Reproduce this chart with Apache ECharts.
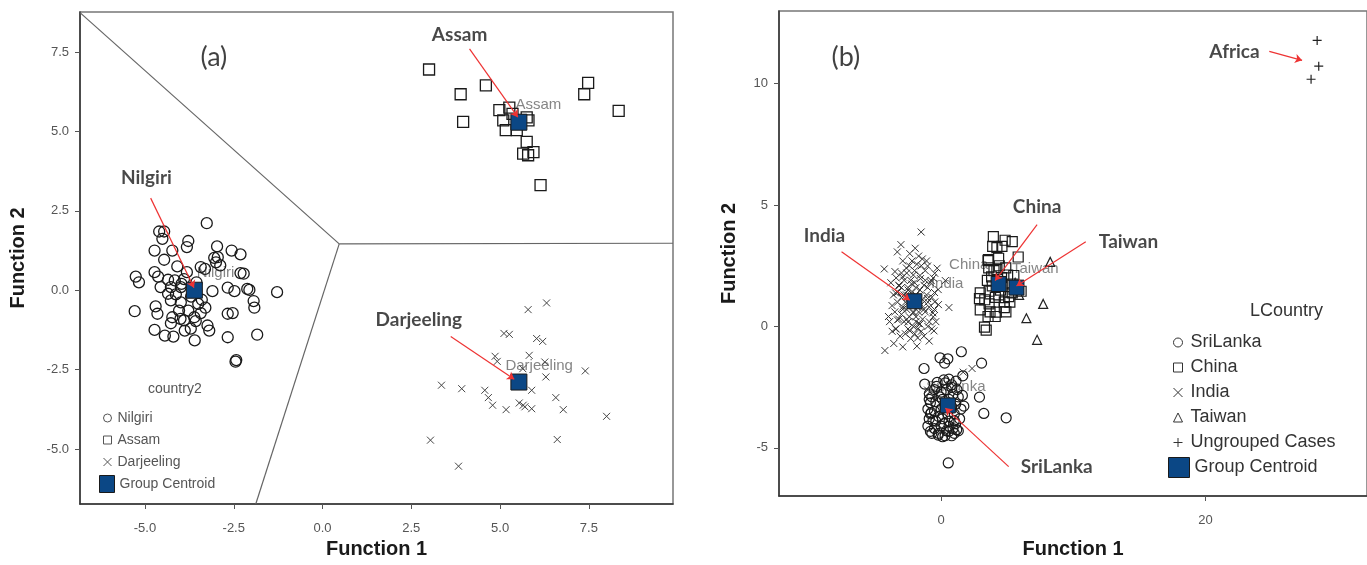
<!DOCTYPE html>
<html>
<head>
<meta charset="utf-8">
<script src="https://cdn.jsdelivr.net/npm/echarts@6/dist/echarts.min.js"></script>
<style>
  html, body { margin: 0; padding: 0; background: #fff; }
  #chart { width: 1367px; height: 565px; }
</style>
</head>
<body>
<div id="chart"></div>
<script>
// ---------- Panel (a): discriminant scores, Indian regions ----------
const nilgiri = [
  [-3.26,2.11],[-4.60,1.85],[-4.46,1.85],[-4.51,1.62],[-3.78,1.55],[-3.82,1.36],[-2.97,1.38],[-4.73,1.25],
  [-4.23,1.25],[-2.56,1.25],[-2.31,1.13],[-4.46,0.96],[-3.05,1.02],[-2.95,1.04],[-3.00,0.88],[-2.88,0.78],
  [-4.09,0.75],[-4.73,0.57],[-5.26,0.43],[-5.17,0.25],[-4.63,0.43],[-4.35,0.33],[-3.82,0.57],[-3.43,0.73],
  [-3.31,0.67],[-2.31,0.54],[-2.22,0.52],[-4.16,0.31],[-3.97,0.20],[-4.56,0.10],[-4.27,0.10],[-3.99,0.10],
  [-3.10,-0.03],[-2.67,0.08],[-2.48,-0.03],[-2.12,0.04],[-2.06,0.01],[-1.28,-0.06],[-4.35,-0.11],[-4.13,-0.13],
  [-4.27,-0.32],[-3.99,-0.38],[-3.50,-0.43],[-3.43,-0.72],[-4.70,-0.51],[-4.65,-0.74],[-5.29,-0.66],[-1.94,-0.34],
  [-1.92,-0.55],[-4.04,-0.64],[-3.78,-0.64],[-3.61,-0.85],[-4.23,-0.85],[-2.67,-0.74],[-2.53,-0.72],[-4.27,-1.04],
  [-3.90,-0.95],[-3.57,-0.97],[-3.24,-1.11],[-3.19,-1.27],[-4.73,-1.25],[-4.44,-1.43],[-4.20,-1.46],[-3.60,-1.58],
  [-2.67,-1.48],[-1.84,-1.40],[-3.88,-1.27],[-3.71,-1.21],[-2.45,-2.25],[-2.43,-2.20],[-3.70,-0.20],[-3.40,-0.30],
  [-4.00,-0.90],[-3.30,-0.55],[-3.90,0.35],[-3.55,0.25]
];
const assam = [
  [3.00,6.95],[3.89,6.17],[4.60,6.45],[3.96,5.30],[7.48,6.53],[7.37,6.17],[8.34,5.65],[4.98,5.67],
  [5.26,5.75],[5.09,5.35],[5.16,5.04],[5.47,5.04],[5.75,5.44],[5.75,4.67],[5.65,4.30],[5.94,4.35],
  [5.79,4.25],[6.14,3.31],[5.35,5.55],[5.80,5.35]
];
const darjeeling = [
  [6.31,-0.40],[5.79,-0.61],[5.11,-1.36],[5.26,-1.39],[6.03,-1.52],[6.20,-1.61],[4.86,-2.08],[4.92,-2.24],
  [5.82,-2.05],[6.26,-2.26],[5.64,-2.47],[6.29,-2.73],[7.40,-2.54],[3.35,-2.99],[3.92,-3.10],[4.57,-3.15],
  [4.67,-3.38],[4.79,-3.62],[5.17,-3.76],[5.89,-3.15],[5.54,-3.55],[5.65,-3.62],[5.70,-3.67],[5.89,-3.73],
  [6.57,-3.38],[6.78,-3.76],[8.00,-3.97],[3.04,-4.72],[6.61,-4.70],[3.83,-5.54]
];
const centroidsA = [
  ['Nilgiri', [-3.61, 0.00]],
  ['Assam', [5.53, 5.29]],
  ['Darjeeling', [5.53, -2.89]]
];
// territorial map borders between the three regions
const bordersA = [
  [[-6.83, 8.74], [0.47, 1.46]],
  [[0.47, 1.46], [9.87, 1.48]],
  [[0.47, 1.46], [-1.88, -6.73]]
];
const ticksA = [-5, -2.5, 0, 2.5, 5, 7.5];

// ---------- Panel (b): discriminant scores, countries ----------
const sriLanka = [
  [-0.08,-1.29],[0.51,-1.33],[0.27,-1.51],[1.53,-1.04],[3.06,-1.51],[-1.29,-1.73],[1.64,-2.03],[0.59,-2.17],
  [-1.24,-2.37],[0.81,-2.51],[2.90,-2.91],[3.23,-3.58],[4.92,-3.76],[0.54,-5.62],
  [-0.89,-2.77],[-0.81,-3.14],[-0.75,-3.55],[-0.62,-3.88],[-0.81,-4.32],[-0.22,-4.47],[0.11,-4.54],[0.59,-4.32],
  [1.18,-4.25],[1.00,-3.88],[1.72,-3.28],[1.61,-2.84],[-0.35,-2.47],[0.32,-2.32],[1.13,-2.25],
  [-0.5,-2.6],[0.0,-2.7],[0.4,-2.6],[0.9,-2.8],[1.3,-2.9],[-0.9,-3.0],[-0.4,-3.1],[0.1,-3.0],[0.6,-3.0],
  [1.1,-3.2],[1.5,-3.4],[-1.0,-3.4],[-0.5,-3.5],[0.0,-3.4],[0.5,-3.6],[1.0,-3.6],[1.4,-3.8],[-0.9,-3.8],
  [-0.4,-3.9],[0.1,-3.8],[0.6,-3.9],[1.1,-4.0],[-1.0,-4.1],[-0.5,-4.2],[0.0,-4.1],[0.4,-4.3],[0.9,-4.2],
  [1.3,-4.3],[-0.7,-4.4],[-0.2,-4.4],[0.3,-4.5],[0.8,-4.5],[-0.3,-2.3],[0.2,-2.2],[0.8,-2.4],[-0.7,-2.9],
  [1.2,-2.6],[0.3,-3.3],[-0.2,-3.7],[0.8,-3.3],[-0.8,-3.6],[0.2,-4.0],[1.0,-4.4],[-0.1,-2.9],[0.6,-4.1]
];
const china = [
  [3.95,3.70],[4.84,3.55],[5.38,3.49],[4.22,3.25],[3.55,2.71],[4.35,2.81],[5.83,2.86],[3.60,2.41],
  [4.22,2.34],[4.89,2.41],[5.03,2.12],[2.96,1.38],[3.63,1.45],[4.36,1.30],[5.11,1.23],[2.90,1.15],
  [3.63,0.93],[2.96,0.68],[4.17,0.59],[4.78,0.78],[3.55,0.41],[4.09,0.41],[3.28,-0.03],[3.41,-0.15],
  [5.38,1.38],[6.05,1.45],[4.78,1.01],[3.87,1.67],[4.57,2.01],[3.82,2.04],[5.38,1.75],
  [3.3,1.1],[3.7,0.6],[4.5,1.5],[4.9,0.6],[5.2,1.0],[4.0,2.3],[4.6,3.3],[3.9,3.3],[4.4,2.5],[3.5,1.9],
  [5.5,2.1],[4.1,1.2],[3.58,2.75]
];
const india = [
  [-1.51,3.89],[-3.04,3.37],[-1.96,3.22],[-3.31,3.07],[-2.37,3.00],[-1.42,2.78],[-1.83,2.56],[-1.02,2.49],
  [-4.30,2.37],[-3.49,2.26],[-2.63,2.41],[-0.48,2.19],[-2.90,2.04],[-2.10,2.12],[-1.56,1.97],[-0.75,1.89],
  [0.32,1.89],[-3.17,1.67],[-2.23,1.75],[-1.02,1.60],[-0.22,1.52],[-3.44,1.38],[-2.63,1.30],[-1.02,1.15],
  [-0.48,1.01],[-3.71,0.86],[-2.90,0.71],[-2.10,0.56],[-1.29,0.71],[-0.62,0.56],[0.59,0.78],[-3.98,0.41],
  [-3.31,0.27],[-2.50,0.19],[-1.69,0.12],[-0.89,0.19],[-3.44,-0.10],[-2.37,-0.18],[-1.77,-0.10],[-0.54,-0.18],
  [-1.77,-0.47],[-3.58,-0.70],[-4.25,-0.99],[-2.90,-0.84],[-1.83,-0.81],
  [-2.8,1.9],[-2.5,1.6],[-2.2,1.4],[-1.9,1.3],[-1.6,1.5],[-1.3,1.7],[-1.1,1.3],[-2.4,1.2],[-2.7,1.0],
  [-3.0,1.2],[-3.3,1.0],[-3.0,0.5],[-2.6,0.7],[-2.3,0.9],[-1.8,0.8],[-1.5,0.9],[-1.2,0.6],[-0.9,0.8],
  [-0.7,1.2],[-1.4,0.3],[-1.9,0.4],[-2.4,0.4],[-2.8,0.2],[-3.2,0.3],[-3.5,0.6],[-3.6,1.3],[-3.0,1.6],
  [-2.6,2.2],[-2.0,2.3],[-1.6,2.1],[-1.2,2.3],[-0.8,1.8],[-0.5,1.4],[-0.6,0.4],[-1.0,0.0],[-1.5,-0.2],
  [-2.1,0.0],[-2.7,-0.3],[-3.1,-0.4],[-2.3,-0.5],[-1.3,-0.4],[-0.9,-0.6],[-3.8,1.8],[-3.4,2.0],[-2.2,2.7],
  [-1.7,2.9],[-2.9,2.7],[-1.1,2.7],[-0.3,2.4],[-0.2,0.9],[-0.4,0.2],[-3.9,0.2],[-3.7,-0.2],[-2.0,1.8],
  [-2.3,1.9],[-1.8,1.1],[-1.7,0.6],[-2.1,0.6],[-2.5,1.5],[-1.4,1.1],[-2.9,0.8],[-3.2,1.7],[-1.0,1.0],
  [-1.9,1.6],[-2.6,0.3],[-3.4,-0.1],[-2.0,-0.3],[-1.6,0.1],[-0.7,-0.1],[-2.8,1.3],[-1.2,1.9],[-0.5,0.7],
  [-3.0,2.2],[-2.4,2.5],[-1.5,2.5],[-0.6,2.0],[-3.3,1.4],[-2.2,1.1],[-1.9,0.2],[-2.5,-0.1],
  [2.34,-1.73],[1.67,-1.88],[-1.02,-2.62]
];
const taiwan = [
  [8.25,2.66],[7.72,0.93],[6.45,0.34],[7.26,-0.55],[5.9,1.3],[5.6,1.8]
];
const ungrouped = [
  [28.44,11.78],[28.56,10.72],[27.98,10.18]
];
const centroidsB = [
  ['SriLanka', [0.51, -3.25]],
  ['China', [4.35, 1.75]],
  ['India', [-2.02, 1.04]],
  ['Taiwan', [5.70, 1.60]]
];
const ticksBX = [0, 20];
const ticksBY = [-5, 0, 5, 10];

// ---------- callout texts and arrows (data coordinates) ----------
const calloutsA = [
  ['(a)', [-3.06, 7.32]],
  ['Assam', [3.86, 8.05]],
  ['Nilgiri', [-4.96, 3.55]],
  ['Darjeeling', [2.71, -0.94]]
];
const arrowsA = [
  [[4.14, 7.60], [5.50, 5.45]],
  [[-4.84, 2.90], [-3.62, 0.08]],
  [[3.61, -1.46], [5.40, -2.80]]
];
const calloutsB = [
  ['(b)', [-7.20, 11.07]],
  ['India', [-8.82, 3.74]],
  ['China', [7.26, 4.93]],
  ['Taiwan', [14.17, 3.49]],
  ['SriLanka', [8.74, -5.80]],
  ['Africa', [22.19, 11.29]]
];
const arrowsB = [
  [[-7.53, 3.08], [-2.37, 1.08]],
  [[7.26, 4.19], [4.09, 1.89]],
  [[10.94, 3.49], [5.70, 1.67]],
  [[5.11, -5.77], [0.32, -3.36]],
  [[24.82, 11.33], [27.30, 10.96]]
];
// pixel offsets of the small centroid captions
const captionOffsetA = { 'Nilgiri': [3, -17], 'Assam': [-3, -17], 'Darjeeling': [-13, -16] };
const captionOffsetB = { 'SriLanka': [-21, -18], 'China': [-49, -19], 'India': [17, -17], 'Taiwan': [-4, -18] };

// ---------- styling ----------
const SANS = 'Liberation Sans, Arial, sans-serif';
const CALLOUT_FONT = 'Lato, Carlito, sans-serif';
const SYM_X = 'path://M0,0L10,10M10,0L0,10';
const SYM_PLUS = 'path://M5,0L5,10M0,5L10,5';
const CENTROID_BLUE = '#0b4785';
const hollow = (c, w) => ({ color: 'rgba(0,0,0,0)', borderColor: c, borderWidth: w, opacity: 1 });
const centroidStyle = { color: CENTROID_BLUE, borderColor: '#1a1a1a', borderWidth: 1, opacity: 1 };

function axisPair(gi, xr, yr, xt, yt, fmt, nameGapX, nameGapY) {
  const common = {
    type: 'value', gridIndex: gi, scale: true,
    splitLine: { show: false },
    axisLine: { show: true, onZero: false, lineStyle: { color: '#333', width: 1.5 } },
    axisTick: { show: true, length: 5, lineStyle: { color: '#555' } },
    nameLocation: 'middle',
    nameTextStyle: { fontFamily: SANS, fontSize: 20, fontWeight: 'bold', color: '#1a1a1a' }
  };
  return {
    x: Object.assign({}, common, {
      min: xr[0], max: xr[1], name: 'Function 1', nameGap: nameGapX,
      axisTick: Object.assign({}, common.axisTick, { customValues: xt }),
      axisLabel: { customValues: xt, formatter: fmt, margin: 18, fontFamily: SANS, fontSize: 13, color: '#555' }
    }),
    y: Object.assign({}, common, {
      min: yr[0], max: yr[1], name: 'Function 2', nameGap: nameGapY,
      axisTick: Object.assign({}, common.axisTick, { customValues: yt }),
      axisLabel: { customValues: yt, formatter: fmt, margin: 11, fontFamily: SANS, fontSize: 13, color: '#555' }
    })
  };
}

function pointSeries(gi, name, data, symbol, size, style, z) {
  return {
    type: 'scatter', name, xAxisIndex: gi, yAxisIndex: gi, data, symbol, symbolSize: size,
    itemStyle: style, silent: true, z: z || 3, emphasis: { disabled: true }
  };
}

function centroidSeries(gi, list, size) {
  return {
    type: 'scatter', name: 'Group Centroid', xAxisIndex: gi, yAxisIndex: gi,
    data: list.map(c => ({ name: c[0], value: c[1] })),
    symbol: 'rect', symbolSize: size,
    itemStyle: centroidStyle,
    silent: true, z: 5, emphasis: { disabled: true }
  };
}

function captionSeries(gi, list, offsets) {
  return {
    type: 'scatter', xAxisIndex: gi, yAxisIndex: gi, symbolSize: 1,
    itemStyle: { color: 'rgba(0,0,0,0)' }, silent: true, z: 2, emphasis: { disabled: true },
    data: list.map(c => ({ name: c[0], value: c[1], label: { position: offsets[c[0]] } })),
    label: {
      show: true, formatter: '{b}', align: 'left', verticalAlign: 'middle',
      fontFamily: SANS, fontSize: 15, color: '#666'
    }
  };
}

function calloutSeries(gi, list) {
  return {
    type: 'scatter', xAxisIndex: gi, yAxisIndex: gi, symbolSize: 1,
    itemStyle: { color: 'rgba(0,0,0,0)' }, silent: true, z: 7, emphasis: { disabled: true },
    data: list.map(c => ({
      name: c[0], value: c[1],
      label: c[0].charAt(0) === '(' ? { fontSize: 27, fontWeight: 'normal', color: '#111' } : {}
    })),
    label: {
      show: true, position: 'inside', formatter: '{b}', align: 'center', verticalAlign: 'middle',
      fontFamily: CALLOUT_FONT, fontSize: 19, fontWeight: 'bold', color: '#1a1a1a'
    }
  };
}

function arrowSeries(gi, list) {
  return {
    type: 'lines', coordinateSystem: 'cartesian2d', xAxisIndex: gi, yAxisIndex: gi,
    data: list.map(s => ({ coords: s })),
    symbol: ['none', 'arrow'], symbolSize: 7,
    lineStyle: { color: '#ee3333', width: 1.2, opacity: 1 },
    silent: true, z: 6
  };
}

const axA = axisPair(0, [-6.83, 9.87], [-6.73, 8.76], ticksA, ticksA, v => v.toFixed(1), 35, 52);
const axB = axisPair(1, [-12.26, 32.21], [-6.98, 12.99], ticksBX, ticksBY, v => String(v), 43, 40);

const legendText = (size, color, lh, padLeft) => ({
  fontFamily: SANS, fontSize: size, color, lineHeight: lh, padding: [0, 0, 0, padLeft]
});

const option = {
  animation: false,
  backgroundColor: '#fff',
  grid: [
    { left: 80, top: 12, width: 593, height: 492, show: true, borderColor: '#777', borderWidth: 1.5, containLabel: false },
    { left: 779, top: 11, width: 591, height: 485, show: true, borderColor: '#777', borderWidth: 1.5, containLabel: false }
  ],
  xAxis: [axA.x, axB.x],
  yAxis: [axA.y, axB.y],
  legend: [
    {
      orient: 'vertical', left: 98, top: 402, itemWidth: 8, itemHeight: 8, itemGap: 0, selectedMode: false,
      textStyle: legendText(14, '#555', 22, 1),
      data: [
        { name: 'Nilgiri', icon: 'circle', itemStyle: hollow('#555', 1) },
        { name: 'Assam', icon: 'rect', itemStyle: hollow('#555', 1) },
        { name: 'Darjeeling', icon: SYM_X, itemStyle: hollow('#555', 1) }
      ]
    },
    {
      orient: 'vertical', left: 94, top: 468, itemWidth: 15, itemHeight: 17, itemGap: 0, selectedMode: false,
      textStyle: legendText(14, '#555', 22, 0),
      data: [{ name: 'Group Centroid', icon: 'rect', itemStyle: centroidStyle }]
    },
    {
      orient: 'vertical', left: 1168, top: 325, itemWidth: 9, itemHeight: 9, itemGap: 0, selectedMode: false,
      textStyle: legendText(18, '#333', 25, 3),
      data: [
        { name: 'SriLanka', icon: 'circle', itemStyle: hollow('#333', 1) },
        { name: 'China', icon: 'rect', itemStyle: hollow('#333', 1) },
        { name: 'India', icon: SYM_X, itemStyle: hollow('#333', 1) },
        { name: 'Taiwan', icon: 'triangle', itemStyle: hollow('#333', 1) },
        { name: 'Ungrouped Cases', icon: SYM_PLUS, itemStyle: hollow('#333', 1) }
      ]
    },
    {
      orient: 'vertical', left: 1163, top: 450, itemWidth: 21, itemHeight: 20, itemGap: 0, selectedMode: false,
      textStyle: legendText(18, '#333', 25, 0),
      data: [{ name: 'Group Centroid', icon: 'rect', itemStyle: centroidStyle }]
    }
  ],
  graphic: [
    { type: 'text', left: 148, top: 382, style: { text: 'country2', fontFamily: SANS, fontSize: 14, fill: '#555', textAlign: 'center' } },
    { type: 'text', left: 1250, top: 302, style: { text: 'LCountry', fontFamily: SANS, fontSize: 18, fill: '#333', textAlign: 'center' } }
  ],
  series: [
    {
      type: 'lines', coordinateSystem: 'cartesian2d', xAxisIndex: 0, yAxisIndex: 0,
      data: bordersA.map(s => ({ coords: s })), symbol: 'none',
      lineStyle: { color: '#666', width: 1.2, opacity: 1 }, silent: true, z: 1
    },
    captionSeries(0, centroidsA, captionOffsetA),
    pointSeries(0, 'Nilgiri', nilgiri, 'circle', 11, hollow('#1a1a1a', 1.3)),
    pointSeries(0, 'Assam', assam, 'rect', 11, hollow('#1a1a1a', 1.3)),
    pointSeries(0, 'Darjeeling', darjeeling, SYM_X, 7, hollow('#444', 1)),
    centroidSeries(0, centroidsA, 16),
    arrowSeries(0, arrowsA),
    calloutSeries(0, calloutsA),

    captionSeries(1, centroidsB, captionOffsetB),
    pointSeries(1, 'SriLanka', sriLanka, 'circle', 10, hollow('#1a1a1a', 1.2)),
    pointSeries(1, 'China', china, 'rect', 10, hollow('#1a1a1a', 1.2)),
    pointSeries(1, 'India', india, SYM_X, 7, hollow('#333', 1)),
    pointSeries(1, 'Taiwan', taiwan, 'triangle', 9, hollow('#222', 1.2)),
    pointSeries(1, 'Ungrouped Cases', ungrouped, SYM_PLUS, 9, hollow('#222', 1.2)),
    centroidSeries(1, centroidsB, 15),
    arrowSeries(1, arrowsB),
    calloutSeries(1, calloutsB)
  ]
};

const chart = echarts.init(document.getElementById('chart'), null, { renderer: 'canvas' });
chart.setOption(option);
</script>
</body>
</html>
